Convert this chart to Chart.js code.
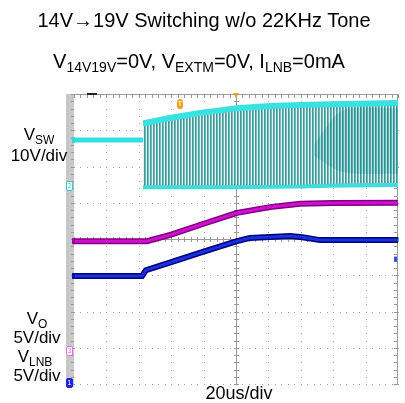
<!DOCTYPE html>
<html>
<head>
<meta charset="utf-8">
<script src="https://cdn.jsdelivr.net/npm/chart.js@4"></script>
<style>
html, body { margin: 0; padding: 0; background: #fff; }
#wrap { position: relative; width: 405px; height: 403px; font-family: "Liberation Sans", Arial, sans-serif; color: #000; }
#scope { position: absolute; left: 0; top: 0; }
.t { position: absolute; white-space: nowrap; line-height: 1; transform: translate(-50%, -50%); }
.sub { font-size: 12px; position: relative; top: 4px; }
.sub2 { font-size: 14px; position: relative; top: 4px; }
.ch { position: absolute; width: 5px; height: 8px; font-size: 7px; line-height: 8px; text-align: center; border-radius: 2px; }
</style>
</head>
<body>
<div id="wrap">
  <canvas id="scope" width="405" height="403"></canvas>
  <div class="t" style="left:204px;top:20px;font-size:20px;">14V&#8594;19V Switching w/o 22KHz Tone</div>
  <div class="t" style="left:199px;top:61px;font-size:20px;">V<span class="sub2">14V19V</span>=0V, V<span class="sub2">EXTM</span>=0V, I<span class="sub2">LNB</span>=0mA</div>
  <div class="t" style="left:39px;top:134px;font-size:17px;">V<span class="sub">SW</span></div>
  <div class="t" style="left:39px;top:155px;font-size:17px;">10V/div</div>
  <div class="t" style="left:37px;top:318px;font-size:17px;">V<span class="sub">O</span></div>
  <div class="t" style="left:37px;top:337px;font-size:17px;">5V/div</div>
  <div class="t" style="left:35px;top:356px;font-size:17px;">V<span class="sub">LNB</span></div>
  <div class="t" style="left:37px;top:375px;font-size:17px;">5V/div</div>
  <div class="t" style="left:239px;top:393px;font-size:18px;">20us/div</div>
  <div class="ch" style="left:66px;top:181px;border:1px solid #30c8c8;color:#30c8c8;background:#fff;">2</div>
  <div class="ch" style="left:66px;top:346px;border:1px solid #e070e0;color:#e070e0;background:#fff;">3</div>
  <div class="ch" style="left:66px;top:378px;border:1px solid #2020e0;color:#fff;background:#2020e0;">1</div>
  <div class="ch" style="left:177px;top:99px;width:6px;height:10px;line-height:10px;border-radius:3px;color:#fff;background:#f0a020;font-size:8px;">T</div>
</div>
<script>
// time axis in divisions (20us/div), voltage axis in divisions (0 = bottom of screen)
// VSW before switching
const vswFlatT = [0, 2.13];
const vswFlatV = [6.73, 6.73];
// VSW switching envelope
const swT = [2.13, 2.19, 2.96, 3.89, 5.03, 6.05, 6.98, 7.9, 10];
const swTop = [7.2, 7.2, 7.34, 7.48, 7.61, 7.67, 7.7, 7.72, 7.75];
const swBot = [5.43, 5.43, 5.43, 5.43, 5.43, 5.44, 5.45, 5.47, 5.49];
// darker, denser switching area at the right
const denseT = [7.4, 8.3, 10];
const denseTop = [6.6, 7.55, 7.6];
const denseBot = [6.3, 5.85, 5.8];
// VO
const voT = [0, 2.25, 3.0, 4.0, 5.03, 6.05, 6.98, 8.0, 10];
const voV = [3.94, 3.94, 4.12, 4.42, 4.72, 4.88, 4.97, 4.99, 5.0];
// VLNB
const vlnbT = [0, 2.1, 2.22, 3.0, 4.0, 5.03, 5.43, 6.67, 7.05, 7.59, 8.5, 10];
const vlnbV = [2.98, 2.98, 3.14, 3.36, 3.65, 3.94, 4.03, 4.08, 4.05, 3.97, 3.97, 3.97];

function pts(t, v) {
  return t.map((x, i) => ({ x: x, y: v[i] }));
}

function stripes(c1, c2, c3) {
  const c = document.createElement('canvas');
  c.width = 3;
  c.height = 1;
  const g = c.getContext('2d');
  g.fillStyle = c1; g.fillRect(0, 0, 1, 1);
  g.fillStyle = c2; g.fillRect(1, 0, 1, 1);
  g.fillStyle = c3; g.fillRect(2, 0, 1, 1);
  return g.createPattern(c, 'repeat');
}

const scopeGrid = {
  id: 'scopeGrid',
  beforeDatasetsDraw(chart) {
    const { ctx, chartArea: a, scales: { x, y } } = chart;
    ctx.save();
    ctx.fillStyle = '#c8c8c8';
    ctx.fillRect(a.left - 8, a.top, 8, a.bottom - a.top + 3);
    // dotted grid
    ctx.fillStyle = '#a0a0a0';
    for (let i = 1; i < 10; i++) {
      if (i === 5) continue;
      const px = Math.round(x.getPixelForValue(i));
      for (let j = 0; j <= 40; j++) ctx.fillRect(px, Math.round(y.getPixelForValue(j / 5)), 1, 1);
    }
    for (let i = 0; i < 8; i++) {
      if (i === 4) continue;
      const py = Math.round(y.getPixelForValue(i));
      for (let j = 0; j <= 50; j++) ctx.fillRect(Math.round(x.getPixelForValue(j / 5)), py, 1, 1);
    }
    // center axes with minor ticks
    ctx.fillStyle = '#9a9a9a';
    const cx = Math.round(x.getPixelForValue(5));
    const cy = Math.round(y.getPixelForValue(4));
    ctx.fillRect(cx, a.top, 1, a.bottom - a.top);
    ctx.fillRect(a.left, cy, a.right - a.left, 1);
    for (let j = 0; j <= 40; j++) {
      const py = Math.round(y.getPixelForValue(j / 5));
      ctx.fillRect(cx - 2, py, 5, 1);
      ctx.fillRect(a.right - 4, py, 4, 1);
      ctx.fillRect(a.left - 3, py, 3, 1);
    }
    for (let j = 0; j <= 50; j++) {
      const px = Math.round(x.getPixelForValue(j / 5));
      ctx.fillRect(px, cy - 2, 1, 5);
      ctx.fillRect(px, a.top, 1, 4);
    }
    // top and right frame
    ctx.fillRect(a.left, a.top, a.right - a.left, 1);
    ctx.fillRect(a.right - 1, a.top, 1, a.bottom - a.top + 1);
    ctx.fillStyle = '#222';
    ctx.fillRect(a.left + 13, a.top - 1, 10, 2);
    ctx.restore();
  },
  afterDraw(chart) {
    const { ctx, chartArea: a, scales: { x, y } } = chart;
    ctx.save();
    // trigger arrow
    const cx = x.getPixelForValue(5);
    ctx.fillStyle = '#f0a020';
    ctx.beginPath();
    ctx.moveTo(cx - 3, a.top - 1);
    ctx.lineTo(cx + 3, a.top - 1);
    ctx.lineTo(cx, a.top + 4);
    ctx.fill();
    // trace level markers on the side bar
    ctx.fillStyle = '#30d8d8';
    ctx.fillRect(a.left - 2, y.getPixelForValue(vswFlatV[0]) - 3, 3, 6);
    ctx.fillStyle = '#a000a0';
    ctx.fillRect(a.left - 2, y.getPixelForValue(voV[0]) - 3, 3, 6);
    ctx.fillStyle = '#1010a0';
    ctx.fillRect(a.left - 2, y.getPixelForValue(vlnbV[0]) - 3, 3, 6);
    // ch1 marker on right edge
    ctx.fillStyle = '#3050e0';
    ctx.fillRect(a.right - 4, y.getPixelForValue(3.46) - 2, 3, 5);
    ctx.restore();
  }
};

const line = (data, color, width, order, extra) => Object.assign({
  data: data,
  borderColor: color,
  borderWidth: width,
  pointRadius: 0,
  tension: 0.3,
  fill: false,
  order: order
}, extra || {});

new Chart(document.getElementById('scope'), {
  type: 'line',
  data: {
    datasets: [
      line(pts(swT, swTop), '#38e2e2', 6, 12, { fill: 1, tension: 0, backgroundColor: stripes('#3f9a9a', '#72b9b9', '#e6f4f4') }),
      line(pts(swT, swBot), '#40dcdc', 4, 9, { tension: 0 }),
      line(pts(denseT, denseTop), 'rgba(0,0,0,0)', 0, 11, { fill: 3, backgroundColor: stripes('#2a9292', '#58acac', '#bfe2e2') }),
      line(pts(denseT, denseBot), 'rgba(0,0,0,0)', 0, 11),
      line(pts(vswFlatT, vswFlatV), '#30e0e0', 5, 7, { tension: 0 }),
      line(pts(voT, voV), '#800080', 6, 6, { tension: 0 }),
      line(pts(voT, voV), '#d010d0', 3, 5, { tension: 0 }),
      line(pts(vlnbT, vlnbV), '#000080', 6, 4, { tension: 0 }),
      line(pts(vlnbT, vlnbV), '#1a30d8', 3, 3, { tension: 0 })
    ]
  },
  options: {
    responsive: false,
    animation: false,
    layout: { padding: { left: 74, right: 7, top: 94, bottom: 19 } },
    plugins: { legend: { display: false }, tooltip: { enabled: false } },
    scales: {
      x: { type: 'linear', min: 0, max: 10, display: false },
      y: { type: 'linear', min: 0, max: 8, display: false }
    }
  },
  plugins: [scopeGrid]
});
</script>
</body>
</html>
